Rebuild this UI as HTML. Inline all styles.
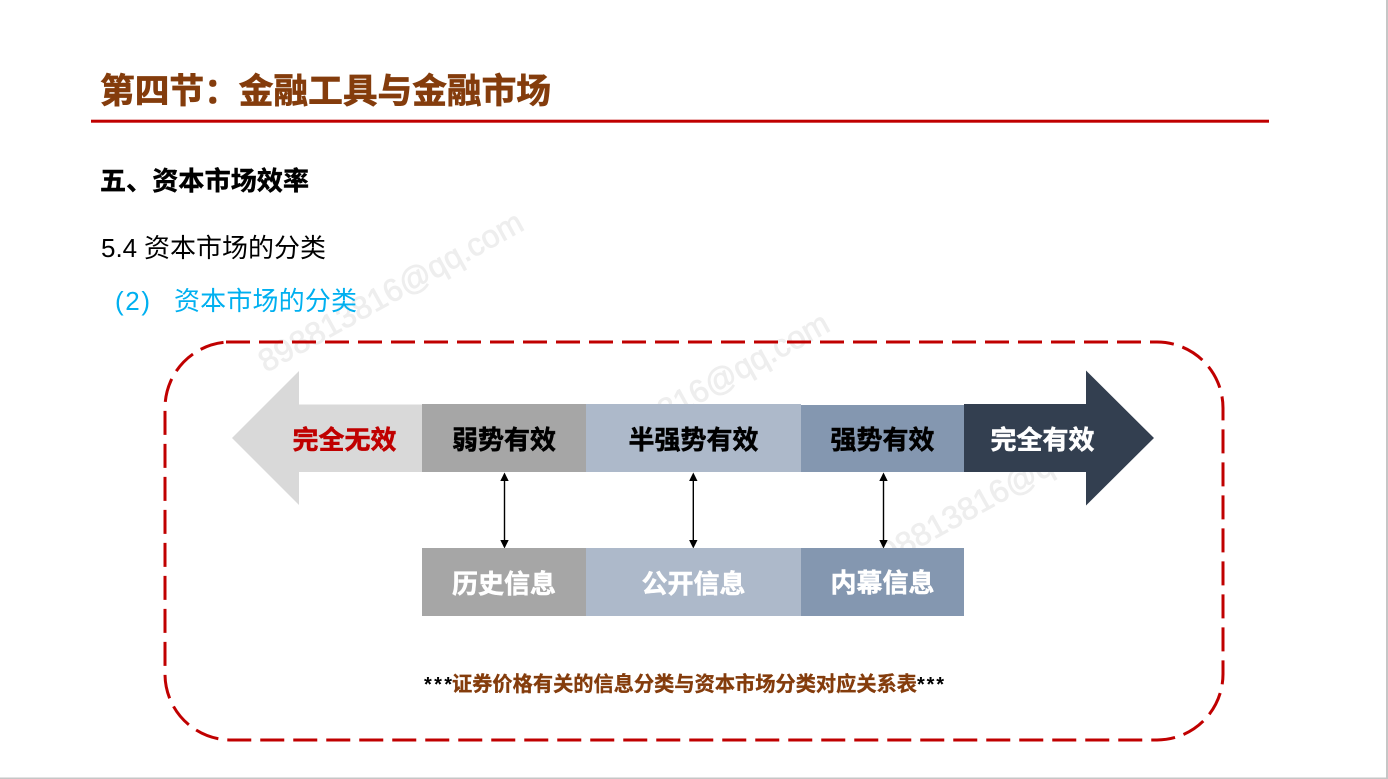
<!DOCTYPE html>
<html lang="zh">
<head>
<meta charset="utf-8">
<title>第四节：金融工具与金融市场</title>
<style>
html,body{margin:0;padding:0;background:#fff;width:1388px;height:779px;overflow:hidden}
svg{display:block}
text{font-family:"Liberation Sans","Noto Sans CJK SC",sans-serif}
.m{text-anchor:middle}
</style>
</head>
<body>
<svg width="1388" height="779" viewBox="0 0 1388 779" xmlns="http://www.w3.org/2000/svg">
<rect width="1388" height="779" fill="#fff"/>
<rect x="1386" y="0" width="2" height="779" fill="#c6c6c6"/>
<rect x="0" y="777.5" width="1388" height="1.5" fill="#c6c6c6"/>

<!-- watermarks -->
<g fill="#eeeeee" stroke="#eeeeee" stroke-width="0.7" font-size="32">
<text x="0" y="0" transform="translate(266,373) rotate(-29)" textLength="297" lengthAdjust="spacingAndGlyphs">898813816@qq.com</text>
<text x="0" y="0" transform="translate(572,474) rotate(-29)" textLength="297" lengthAdjust="spacingAndGlyphs">898813816@qq.com</text>
<text x="0" y="0" transform="translate(872,574) rotate(-29)" textLength="297" lengthAdjust="spacingAndGlyphs">898813816@qq.com</text>
</g>

<!-- heading -->
<text x="100" y="103" font-size="34.7" font-weight="700" fill="#843c0c" stroke="#843c0c" stroke-width="0.7" textLength="451" lengthAdjust="spacing">第四节：金融工具与金融市场</text>
<rect x="91" y="119.7" width="1178" height="3" fill="#c00000"/>
<text x="100" y="190" font-size="26" font-weight="700" fill="#000" stroke="#000" stroke-width="0.5" textLength="209" lengthAdjust="spacing">五、资本市场效率</text>
<text x="101" y="257" font-size="26" fill="#000">5.4</text>
<text x="144" y="257" font-size="26" fill="#000" textLength="182" lengthAdjust="spacing">资本市场的分类</text>
<text x="115" y="310" font-size="26" fill="#00b0f0" textLength="35" lengthAdjust="spacing">(2)</text>
<text x="174" y="310" font-size="26" fill="#00b0f0" textLength="183" lengthAdjust="spacing">资本市场的分类</text>

<!-- dashed frame -->
<path d="M226 342 H1157 A66 66 0 0 1 1223 408 V674 A66 66 0 0 1 1157 740 H231 A66 66 0 0 1 165 674 V408 A66 66 0 0 1 231 342 Z" fill="none" stroke="#c00000" stroke-width="3" stroke-dasharray="24 9"/>

<!-- top band -->
<polygon points="232,438 299,371 299,404.5 422,404.5 422,472 299,472 299,505" fill="#d9d9d9"/>
<rect x="422" y="404" width="164" height="68" fill="#a6a6a6"/>
<rect x="586" y="404" width="215" height="68" fill="#adb9ca"/>
<rect x="801" y="405" width="163" height="67" fill="#8497b0"/>
<polygon points="964,404 1086,404 1086,370.5 1154,438 1086,505.5 1086,472 964,472" fill="#333f50"/>

<g font-size="26" font-weight="700" stroke-width="0.5">
<text class="m" x="344.5" y="449" fill="#c00000" stroke="#c00000">完全无效</text>
<text class="m" x="504" y="449" fill="#000" stroke="#000">弱势有效</text>
<text class="m" x="693.5" y="449" fill="#000" stroke="#000">半强势有效</text>
<text class="m" x="882.5" y="449" fill="#000" stroke="#000">强势有效</text>
<text class="m" x="1042.5" y="449" fill="#fff" stroke="#fff">完全有效</text>
</g>

<!-- connectors -->
<g stroke="#000" stroke-width="1.4">
<line x1="504.5" y1="478" x2="504.5" y2="543"/>
<line x1="693.3" y1="478" x2="693.3" y2="543"/>
<line x1="883.5" y1="478" x2="883.5" y2="543"/>
</g>
<g fill="#000">
<polygon points="504.5,472.5 500.3,481 508.7,481"/>
<polygon points="504.5,548.5 500.3,540 508.7,540"/>
<polygon points="693.3,472.5 689.1,481 697.5,481"/>
<polygon points="693.3,548.5 689.1,540 697.5,540"/>
<polygon points="883.5,472.5 879.3,481 887.7,481"/>
<polygon points="883.5,548.5 879.3,540 887.7,540"/>
</g>

<!-- bottom band -->
<rect x="422" y="548" width="164" height="68" fill="#a6a6a6"/>
<rect x="586" y="548" width="215" height="68" fill="#adb9ca"/>
<rect x="801" y="548" width="163" height="68" fill="#8497b0"/>
<g font-size="26" font-weight="700" fill="#fff" stroke="#fff" stroke-width="0.5">
<text class="m" x="504" y="593">历史信息</text>
<text class="m" x="693.5" y="593">公开信息</text>
<text class="m" x="882.5" y="592">内幕信息</text>
</g>

<!-- caption -->
<text x="424" y="691" font-size="20" font-weight="700" fill="#000" textLength="28" lengthAdjust="spacing">***</text>
<text x="452" y="691" font-size="20.2" font-weight="700" fill="#843c0c" stroke="#843c0c" stroke-width="0.35" textLength="465" lengthAdjust="spacing">证券价格有关的信息分类与资本市场分类对应关系表</text>
<text x="917" y="691" font-size="20" font-weight="700" fill="#000" textLength="27" lengthAdjust="spacing">***</text>
</svg>
</body>
</html>
